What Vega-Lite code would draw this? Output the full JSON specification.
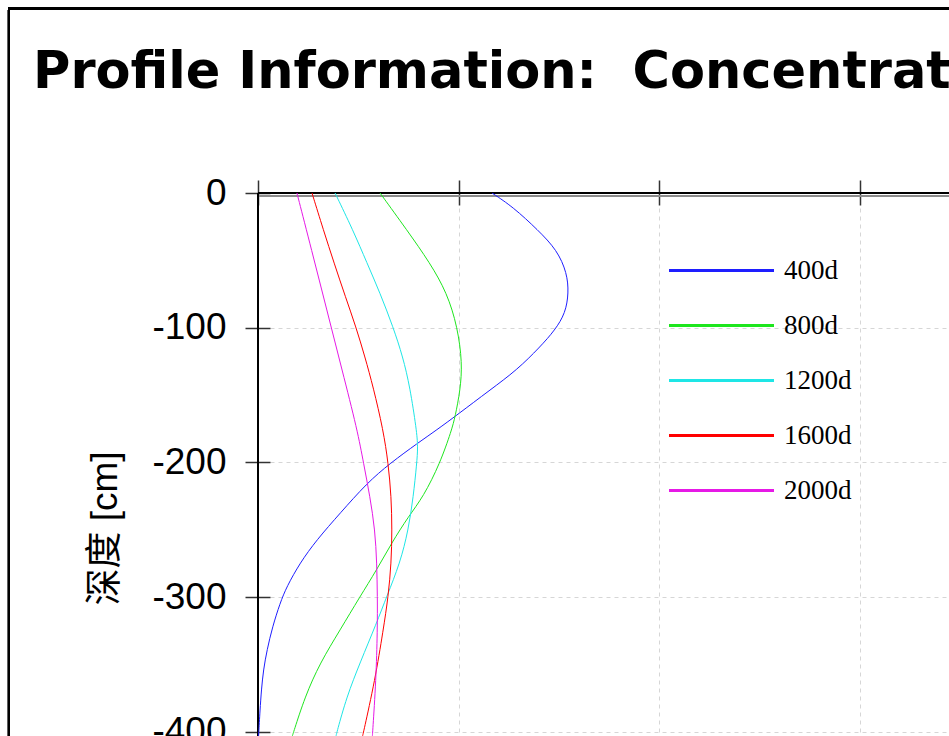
{
  "$schema": "https://vega.github.io/schema/vega-lite/v6.json",
  "width": 691,
  "height": 543,
  "autosize": {"type": "none"},
  "padding": {"left": 258, "top": 193, "right": 0, "bottom": 0},
  "background": "white",
  "title": {
    "text": "Profile Information:\u00a0\u00a0Concentration",
    "anchor": "start",
    "frame": "group",
    "font": "DejaVu Sans",
    "fontSize": 51,
    "fontWeight": "bold",
    "color": "black",
    "baseline": "alphabetic",
    "dx": -225,
    "offset": -131
  },
  "config": {
    "view": {"stroke": null},
    "axis": {
      "domain": false,
      "tickColor": "#333333",
      "tickWidth": 1.5,
      "tickSize": 25,
      "offset": -12,
      "gridColor": "#d6d6d6",
      "gridDash": [4, 4],
      "gridWidth": 1,
      "labelFlush": false,
      "labelOverlap": false
    }
  },
  "data": {
    "values": [
      {"series": "400d", "conc": 1.166, "depth": 0},
      {"series": "400d", "conc": 1.271, "depth": -10.4},
      {"series": "400d", "conc": 1.395, "depth": -27.5},
      {"series": "400d", "conc": 1.490, "depth": -42.3},
      {"series": "400d", "conc": 1.540, "depth": -59.4},
      {"series": "400d", "conc": 1.548, "depth": -74.2},
      {"series": "400d", "conc": 1.532, "depth": -89.1},
      {"series": "400d", "conc": 1.480, "depth": -101.7},
      {"series": "400d", "conc": 1.405, "depth": -114.3},
      {"series": "400d", "conc": 1.290, "depth": -131.4},
      {"series": "400d", "conc": 1.156, "depth": -146.2},
      {"series": "400d", "conc": 0.992, "depth": -164.7},
      {"series": "400d", "conc": 0.890, "depth": -175.9},
      {"series": "400d", "conc": 0.797, "depth": -185.5},
      {"series": "400d", "conc": 0.658, "depth": -200.6},
      {"series": "400d", "conc": 0.542, "depth": -215.4},
      {"series": "400d", "conc": 0.409, "depth": -237.7},
      {"series": "400d", "conc": 0.292, "depth": -257.5},
      {"series": "400d", "conc": 0.209, "depth": -274.6},
      {"series": "400d", "conc": 0.143, "depth": -292.2},
      {"series": "400d", "conc": 0.110, "depth": -304.3},
      {"series": "400d", "conc": 0.072, "depth": -322.1},
      {"series": "400d", "conc": 0.045, "depth": -339.1},
      {"series": "400d", "conc": 0.027, "depth": -354.0},
      {"series": "400d", "conc": 0.017, "depth": -368.8},
      {"series": "400d", "conc": 0.010, "depth": -383.7},
      {"series": "400d", "conc": 0.003, "depth": -403.0},

      {"series": "800d", "conc": 0.608, "depth": 0},
      {"series": "800d", "conc": 0.742, "depth": -27.5},
      {"series": "800d", "conc": 0.857, "depth": -51.9},
      {"series": "800d", "conc": 0.942, "depth": -74.2},
      {"series": "800d", "conc": 0.994, "depth": -99.4},
      {"series": "800d", "conc": 1.018, "depth": -126.2},
      {"series": "800d", "conc": 1.008, "depth": -146.2},
      {"series": "800d", "conc": 0.982, "depth": -166.2},
      {"series": "800d", "conc": 0.965, "depth": -175.9},
      {"series": "800d", "conc": 0.907, "depth": -200.6},
      {"series": "800d", "conc": 0.824, "depth": -225.4},
      {"series": "800d", "conc": 0.749, "depth": -240.2},
      {"series": "800d", "conc": 0.666, "depth": -259.7},
      {"series": "800d", "conc": 0.591, "depth": -279.8},
      {"series": "800d", "conc": 0.508, "depth": -299.6},
      {"series": "800d", "conc": 0.409, "depth": -324.3},
      {"series": "800d", "conc": 0.309, "depth": -348.8},
      {"series": "800d", "conc": 0.234, "depth": -373.8},
      {"series": "800d", "conc": 0.176, "depth": -400.7},
      {"series": "800d", "conc": 0.171, "depth": -403.0},

      {"series": "1200d", "conc": 0.384, "depth": 0},
      {"series": "1200d", "conc": 0.473, "depth": -27.5},
      {"series": "1200d", "conc": 0.543, "depth": -51.9},
      {"series": "1200d", "conc": 0.608, "depth": -74.2},
      {"series": "1200d", "conc": 0.673, "depth": -99.4},
      {"series": "1200d", "conc": 0.722, "depth": -121.7},
      {"series": "1200d", "conc": 0.757, "depth": -144.0},
      {"series": "1200d", "conc": 0.790, "depth": -175.9},
      {"series": "1200d", "conc": 0.797, "depth": -188.5},
      {"series": "1200d", "conc": 0.791, "depth": -200.6},
      {"series": "1200d", "conc": 0.774, "depth": -225.4},
      {"series": "1200d", "conc": 0.749, "depth": -250.1},
      {"series": "1200d", "conc": 0.708, "depth": -274.6},
      {"series": "1200d", "conc": 0.641, "depth": -299.6},
      {"series": "1200d", "conc": 0.591, "depth": -319.1},
      {"series": "1200d", "conc": 0.508, "depth": -348.8},
      {"series": "1200d", "conc": 0.442, "depth": -373.8},
      {"series": "1200d", "conc": 0.392, "depth": -400.7},
      {"series": "1200d", "conc": 0.389, "depth": -403.0},

      {"series": "1600d", "conc": 0.269, "depth": 0},
      {"series": "1600d", "conc": 0.326, "depth": -27.5},
      {"series": "1600d", "conc": 0.379, "depth": -51.9},
      {"series": "1600d", "conc": 0.436, "depth": -77.2},
      {"series": "1600d", "conc": 0.488, "depth": -99.4},
      {"series": "1600d", "conc": 0.533, "depth": -121.7},
      {"series": "1600d", "conc": 0.574, "depth": -144.0},
      {"series": "1600d", "conc": 0.624, "depth": -175.9},
      {"series": "1600d", "conc": 0.649, "depth": -200.6},
      {"series": "1600d", "conc": 0.664, "depth": -225.4},
      {"series": "1600d", "conc": 0.668, "depth": -250.1},
      {"series": "1600d", "conc": 0.664, "depth": -274.6},
      {"series": "1600d", "conc": 0.649, "depth": -299.6},
      {"series": "1600d", "conc": 0.624, "depth": -324.3},
      {"series": "1600d", "conc": 0.583, "depth": -361.4},
      {"series": "1600d", "conc": 0.525, "depth": -400.7},
      {"series": "1600d", "conc": 0.521, "depth": -403.0},

      {"series": "2000d", "conc": 0.194, "depth": 0},
      {"series": "2000d", "conc": 0.267, "depth": -42.3},
      {"series": "2000d", "conc": 0.343, "depth": -86.8},
      {"series": "2000d", "conc": 0.419, "depth": -131.4},
      {"series": "2000d", "conc": 0.495, "depth": -175.9},
      {"series": "2000d", "conc": 0.526, "depth": -200.6},
      {"series": "2000d", "conc": 0.558, "depth": -225.4},
      {"series": "2000d", "conc": 0.583, "depth": -250.1},
      {"series": "2000d", "conc": 0.592, "depth": -274.6},
      {"series": "2000d", "conc": 0.595, "depth": -299.6},
      {"series": "2000d", "conc": 0.595, "depth": -324.3},
      {"series": "2000d", "conc": 0.588, "depth": -361.4},
      {"series": "2000d", "conc": 0.571, "depth": -400.7},
      {"series": "2000d", "conc": 0.570, "depth": -403.0}
    ]
  },
  "layer": [
    {
      "mark": {"type": "rect", "filled": false, "stroke": "black", "strokeWidth": 2, "fill": null},
      "encoding": {
        "x": {"datum": -1.2407, "type": "quantitative"},
        "x2": {"datum": 20},
        "y": {"datum": 136.9, "type": "quantitative"},
        "y2": {"datum": -3000}
      }
    },
    {
      "mark": {"type": "rule", "color": "#8c8c8c", "strokeWidth": 1.5},
      "encoding": {
        "y": {"datum": -2, "type": "quantitative"}
      }
    },
    {
      "mark": {"type": "rule", "color": "black", "strokeWidth": 1.5},
      "encoding": {
        "y": {"datum": 0, "type": "quantitative"}
      }
    },
    {
      "mark": {"type": "rule", "color": "black", "strokeWidth": 1.5},
      "encoding": {
        "x": {"datum": 0, "type": "quantitative"}
      }
    },
    {
      "mark": {"type": "line", "strokeWidth": 1, "interpolate": "basis", "clip": true},
      "encoding": {
        "x": {
          "field": "conc",
          "type": "quantitative",
          "scale": {"domain": [0, 3.443], "nice": false, "zero": false},
          "axis": {
            "orient": "top",
            "title": null,
            "labels": false,
            "values": [0, 1, 2, 3],
            "grid": true
          }
        },
        "y": {
          "field": "depth",
          "type": "quantitative",
          "scale": {"domain": [-403, 0], "nice": false, "zero": false},
          "axis": {
            "orient": "left",
            "values": [0, -100, -200, -300, -400],
            "labelExpr": "toString(datum.value)",
            "grid": true,
            "title": "深度 [cm]",
            "titleFont": "Liberation Sans, Noto Sans CJK SC",
            "titleFontSize": 37,
            "titleFontWeight": "normal",
            "titleColor": "black",
            "titleAngle": -90,
            "titleAlign": "center",
            "titleBaseline": "middle",
            "titleX": -165,
            "titleY": 335,
            "labelFont": "Liberation Sans",
            "labelFontSize": 37,
            "labelColor": "black",
            "labelPadding": 19
          }
        },
        "color": {
          "field": "series",
          "type": "nominal",
          "scale": {
            "domain": ["400d", "800d", "1200d", "1600d", "2000d"],
            "range": ["#1e1eff", "#1ee61e", "#1ee6e6", "#ff0000", "#e619e6"]
          },
          "legend": {
            "orient": "none",
            "legendX": 450,
            "legendY": 64,
            "title": null,
            "padding": 0,
            "symbolType": "M-5,0H5",
            "symbolSize": 441,
            "symbolStrokeWidth": 3,
            "labelFont": "Liberation Serif",
            "labelFontSize": 27,
            "labelColor": "black",
            "labelOffset": 49,
            "rowPadding": 27
          }
        },
        "order": {"field": "depth", "sort": "descending"}
      }
    }
  ]
}
